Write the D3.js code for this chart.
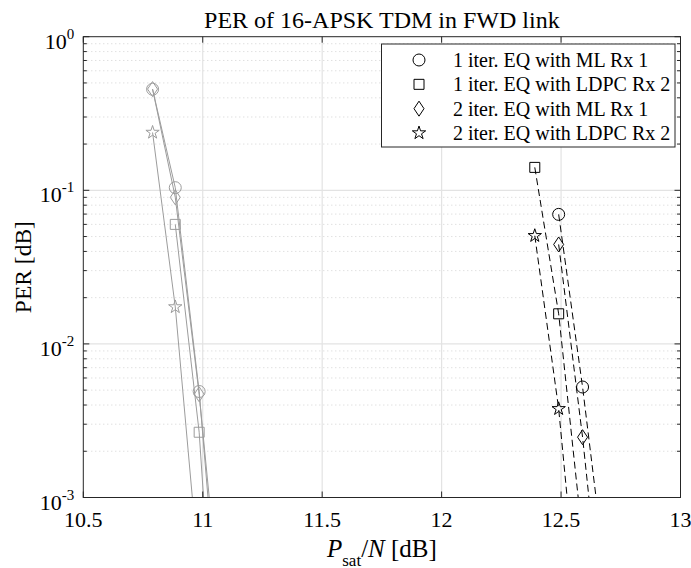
<!DOCTYPE html>
<html>
<head>
<meta charset="utf-8">
<script src="https://d3js.org/d3.v7.min.js"></script>
<style>
  body { margin: 0; background: #fff; }
  svg text { font-family: "Liberation Serif", "Times New Roman", serif; fill: #000; }
</style>
</head>
<body>
<div id="chart"></div>
<script>
// data (values below 1e-3 only steer the clipped tails)
const seriesNames = [
  "1 iter. EQ with ML Rx 1",
  "1 iter. EQ with LDPC Rx 2",
  "2 iter. EQ with ML Rx 1",
  "2 iter. EQ with LDPC Rx 2",
];
const markerTypes = ["circle", "square", "diamond", "star"];

// gray solid group (left)
const grayX = [10.79, 10.885, 10.985, 11.085];
const grayCircle = [0.455, 0.104, 0.0049, 6.6e-5];
const graySquare = [null, 0.06, 0.00266, 1.3e-5];
const grayDiamond = [0.456, 0.09, 0.0047, 1.2e-4];
const grayStar = [0.238, 0.0174, 3.2e-4, null];

// black dashed group (right)
const blackX = [12.39, 12.49, 12.59, 12.69];
const blackCircle = [null, 0.0697, 0.00524, 2.8e-4];
const blackSquare = [0.141, 0.0157, 5.4e-4, null];
const blackDiamond = [null, 0.0444, 0.00247, 8.3e-5];
const blackStar = [0.0506, 0.00378, 8.9e-5, null];

const xTicks = [10.5, 11, 11.5, 12, 12.5, 13];
const yDecades = [-3, -2, -1, 0];

const W = 691, H = 568;
const margin = { left: 83.3, right: W - 680.5, top: 36.7, bottom: H - 497.5 };

const svg = d3.select("#chart").append("svg")
  .attr("width", W).attr("height", H);

const x = d3.scaleLinear().domain([10.5, 13]).range([margin.left, W - margin.right]);
const y = d3.scaleLog().domain([1e-3, 1]).range([H - margin.bottom, margin.top]);

const x0 = x.range()[0], x1 = x.range()[1];
const yTop = y.range()[1], yBot = y.range()[0];

svg.append("defs").append("clipPath").attr("id", "plot-clip")
  .append("rect").attr("x", x0).attr("y", yTop).attr("width", x1 - x0).attr("height", yBot - yTop);

// grid
const grid = svg.append("g");
const minorVals = [];
for (let e = -3; e < 0; e++) {
  for (let m = 2; m <= 9; m++) minorVals.push(m * Math.pow(10, e));
}
grid.selectAll("line.minor").data(minorVals).enter().append("line")
  .attr("x1", x0).attr("x2", x1)
  .attr("y1", (d) => y(d)).attr("y2", (d) => y(d))
  .attr("stroke", "#c8c8c8").attr("stroke-width", 0.8)
  .attr("stroke-dasharray", "1,3");
grid.selectAll("line.majy").data([0.1, 0.01]).enter().append("line")
  .attr("x1", x0).attr("x2", x1)
  .attr("y1", (d) => y(d)).attr("y2", (d) => y(d))
  .attr("stroke", "#e3e3e3").attr("stroke-width", 1.2);
grid.selectAll("line.majx").data(xTicks.slice(1, -1)).enter().append("line")
  .attr("y1", yTop).attr("y2", yBot)
  .attr("x1", (d) => x(d)).attr("x2", (d) => x(d))
  .attr("stroke", "#e3e3e3").attr("stroke-width", 1.2);

// series
const gray = "#9c9c9c";
const series = [
  { xs: grayX, ys: grayCircle, type: 0, color: gray, dash: null },
  { xs: grayX, ys: graySquare, type: 1, color: gray, dash: null },
  { xs: grayX, ys: grayDiamond, type: 2, color: gray, dash: null },
  { xs: grayX, ys: grayStar, type: 3, color: gray, dash: null },
  { xs: blackX, ys: blackCircle, type: 0, color: "#000", dash: "7,4" },
  { xs: blackX, ys: blackSquare, type: 1, color: "#000", dash: "7,4" },
  { xs: blackX, ys: blackDiamond, type: 2, color: "#000", dash: "7,4" },
  { xs: blackX, ys: blackStar, type: 3, color: "#000", dash: "7,4" },
];

function markerPath(type) {
  switch (markerTypes[type]) {
    case "circle":
      return d3.symbol(d3.symbolCircle, 113)();
    case "square":
      return "M-5,-5H5V5H-5Z";
    case "diamond":
      return "M0,-7.5L5,0L0,7.5L-5,0Z";
    case "star":
      return d3.symbol(d3.symbolStar, 55)();
  }
}

const plot = svg.append("g").attr("clip-path", "url(#plot-clip)");
const line = d3.line().x((d) => x(d[0])).y((d) => y(d[1]));

series.forEach((s) => {
  const pts = s.xs.map((v, i) => [v, s.ys[i]]).filter((d) => d[1] != null);
  plot.append("path")
    .datum(pts)
    .attr("d", line)
    .attr("fill", "none")
    .attr("stroke", s.color)
    .attr("stroke-width", 1)
    .attr("stroke-dasharray", s.dash);
  plot.selectAll(null)
    .data(pts.filter((d) => d[1] >= 1e-3))
    .enter()
    .append("path")
    .attr("transform", (d) => `translate(${x(d[0])},${y(d[1])})`)
    .attr("d", markerPath(s.type))
    .attr("fill", "none")
    .attr("stroke", s.color)
    .attr("stroke-width", 1);
});

// axes box with inward ticks
const axisColor = "#262626";
const ax = svg.append("g").attr("stroke", axisColor).attr("stroke-width", 1);
ax.append("rect").attr("x", x0).attr("y", yTop).attr("width", x1 - x0).attr("height", yBot - yTop)
  .attr("fill", "none");
xTicks.forEach((t) => {
  ax.append("line").attr("x1", x(t)).attr("x2", x(t)).attr("y1", yBot).attr("y2", yBot - 6);
  ax.append("line").attr("x1", x(t)).attr("x2", x(t)).attr("y1", yTop).attr("y2", yTop + 6);
});
yDecades.forEach((e) => {
  const v = Math.pow(10, e);
  ax.append("line").attr("x1", x0).attr("x2", x0 + 6).attr("y1", y(v)).attr("y2", y(v));
  ax.append("line").attr("x1", x1).attr("x2", x1 - 6).attr("y1", y(v)).attr("y2", y(v));
});
minorVals.forEach((v) => {
  ax.append("line").attr("x1", x0).attr("x2", x0 + 3.5).attr("y1", y(v)).attr("y2", y(v));
  ax.append("line").attr("x1", x1).attr("x2", x1 - 3.5).attr("y1", y(v)).attr("y2", y(v));
});

// tick labels
svg.selectAll("text.xt").data(xTicks).enter().append("text")
  .attr("x", (d) => x(d)).attr("y", yBot + 29.5)
  .attr("text-anchor", "middle")
  .style("font-size", "22px")
  .text((d) => d);

yDecades.forEach((e) => {
  const t = svg.append("text")
    .attr("x", x0 - 9).attr("y", y(Math.pow(10, e)) + 12)
    .attr("text-anchor", "end")
    .style("font-size", "22px");
  t.append("tspan").text("10");
  t.append("tspan").attr("dy", -10).style("font-size", "15px").text(e);
});

// title and labels
svg.append("text")
  .attr("x", (x0 + x1) / 2).attr("y", 28)
  .attr("text-anchor", "middle")
  .style("font-size", "24px")
  .text("PER of 16-APSK TDM in FWD link");

svg.append("text")
  .attr("transform", `translate(31,${(yTop + yBot) / 2}) rotate(-90)`)
  .attr("text-anchor", "middle")
  .style("font-size", "23.5px")
  .text("PER [dB]");

const xl = svg.append("text")
  .attr("x", (x0 + x1) / 2).attr("y", 556.5)
  .attr("text-anchor", "middle")
  .style("font-size", "25px");
xl.append("tspan").style("font-style", "italic").text("P");
xl.append("tspan").attr("dy", 9).style("font-size", "17px").text("sat");
xl.append("tspan").attr("dy", -9).text("/");
xl.append("tspan").style("font-style", "italic").text("N");
xl.append("tspan").text(" [dB]");

// legend
const legend = svg.append("g");
legend.append("rect")
  .attr("x", 381.5).attr("y", 44).attr("width", 293.5).attr("height", 103)
  .attr("fill", "#fff").attr("stroke", axisColor).attr("stroke-width", 1);
const legendY = d3.scalePoint().domain(seriesNames).range([60, 133]);
seriesNames.forEach((name, i) => {
  legend.append("path")
    .attr("transform", `translate(419,${legendY(name)})`)
    .attr("d", markerPath(i))
    .attr("fill", "none").attr("stroke", "#000").attr("stroke-width", 1);
  legend.append("text")
    .attr("x", 453).attr("y", legendY(name) + 7)
    .style("font-size", "20px")
    .text(name);
});
</script>
</body>
</html>
